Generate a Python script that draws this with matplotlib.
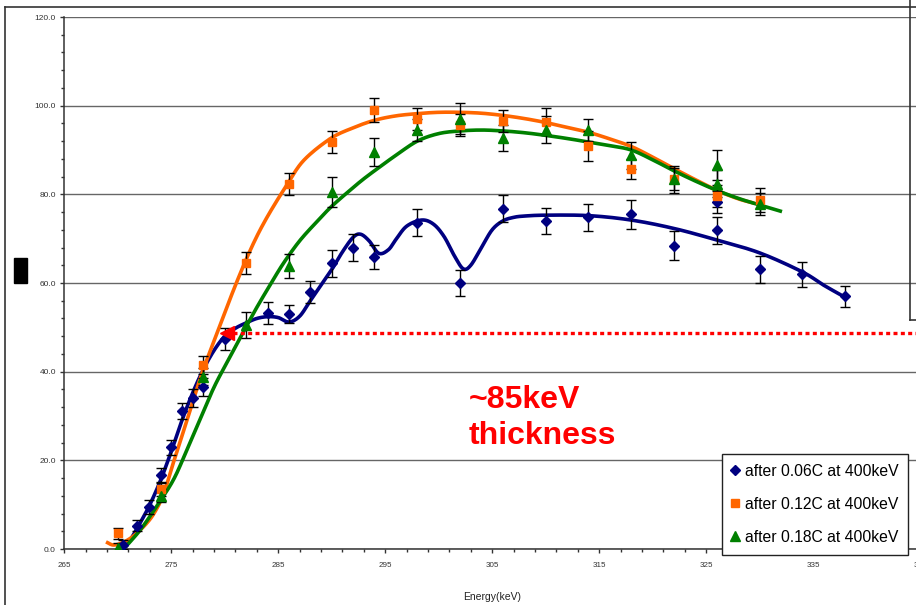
import numpy as np
import matplotlib
matplotlib.use("Agg")
import matplotlib.pyplot as plt
from matplotlib.lines import Line2D
from matplotlib.patches import Rectangle
from matplotlib.ticker import FixedLocator, FormatStrFormatter, MultipleLocator

plt.rcParams['font.family'] = ['Liberation Sans', 'DejaVu Sans']

# ---------------------------------------------------------------------
# measured points (energy keV, yield, error)
# ---------------------------------------------------------------------
blue_e = [270.5, 271.8, 272.9, 274.0, 275.0, 276.0, 277.0, 278.0, 280.0, 284.0, 286.0,
          288.0, 290.0, 292.0, 294.0, 298.0, 302.0, 306.0, 310.0, 314.0, 318.0, 322.0,
          326.0, 326.0, 330.0, 334.0, 338.0]
blue_v = [1.0, 5.3, 9.5, 16.7, 22.9, 31.1, 34.0, 36.6, 47.3, 53.3, 53.0,
          58.0, 64.4, 68.0, 65.9, 73.6, 60.0, 76.8, 74.0, 74.8, 75.5, 68.4,
          78.3, 71.9, 63.1, 62.0, 57.0]
blue_err = [1.0, 1.2, 1.5, 1.5, 1.7, 1.8, 2.0, 2.0, 2.5, 2.5, 2.0,
            2.5, 3.0, 3.0, 2.7, 3.0, 3.0, 3.0, 3.0, 3.0, 3.3, 3.3,
            2.5, 3.0, 3.0, 2.8, 2.4]

orange_e = [270, 274, 278, 282, 286, 290, 294, 298, 302, 306, 310, 314, 318, 322, 326, 330]
orange_v = [3.5, 13.5, 41.5, 64.5, 82.3, 91.8, 99.0, 97.0, 95.6, 96.6, 96.4, 90.9, 85.7, 83.4, 79.6, 78.7]
orange_err = [1.2, 1.5, 2.0, 2.5, 2.5, 2.5, 2.7, 2.5, 2.5, 2.5, 3.0, 3.3, 2.3, 2.5, 2.5, 2.7]

green_e = [270, 274, 278, 282, 286, 290, 294, 298, 302, 306, 310, 314, 318, 322, 326, 326, 330]
green_v = [0.3, 12.0, 38.9, 50.5, 63.8, 80.6, 89.6, 94.6, 97.1, 92.7, 94.6, 94.5, 88.8, 83.4, 86.6, 82.4, 77.9]
green_err = [1.0, 1.5, 2.0, 3.0, 2.7, 3.4, 3.1, 2.5, 3.5, 3.0, 3.0, 2.5, 3.0, 3.0, 3.3, 3.0, 2.5]

# ---------------------------------------------------------------------
# trend curves
# ---------------------------------------------------------------------
blue_fit_e = [270.3, 271, 272, 273, 274, 275, 276, 277, 278, 279, 280, 281, 282, 283, 284,
              285, 286, 287, 288, 289, 290, 291, 292, 292.7, 293.5, 294.4, 295.3, 296,
              297, 298.4, 299.5, 300.5, 301.5, 302.3, 303, 304, 305, 306, 307, 308, 310,
              314, 318, 322, 326, 330, 334, 336, 338.2]
blue_fit_v = [0.3, 1.5, 5.5, 10, 15.5, 22, 29, 35.2, 40.5, 44.8, 48, 49.8, 51, 52, 52.4,
              52.2, 51.2, 52.5, 56, 59.5, 63, 67, 70.3, 71, 69.5, 66.7, 67.5, 69.8,
              72.8, 74.2, 73.3, 70.5, 66, 63.2, 64, 68, 72, 74, 74.8, 75.1, 75.3,
              75.2, 74.2, 72.3, 69.7, 66.8, 62.5, 59.5, 56.5]

orange_fit_e = [268.9, 269.6, 270.5, 271.5, 272.7, 273.5, 274.3, 275.2, 276.4, 277.85,
                279.25, 281, 282.5, 283.9, 285.8, 287.4, 289.9, 292, 294, 296, 298, 300,
                302, 304, 306, 308, 310, 312, 314, 316, 318, 320, 322, 324, 326, 328, 329.5]
orange_fit_v = [1.6, 0.9, 1.5, 3.0, 5.8, 8.5, 12.5, 19.5, 28.5, 39.5,
                48.5, 59.5, 68.0, 74.6, 82.1, 87.7, 92.6, 95.0, 96.7, 97.7, 98.2, 98.5,
                98.5, 98.3, 97.8, 97.1, 96.2, 95.1, 94.0, 92.5, 90.8, 88.4, 85.8, 83.3, 80.9, 79.0, 78.0]

green_fit_e = [270.7, 272.1, 273.6, 275.2, 276.45, 277.7, 279, 280.3, 281.7, 283, 284.3,
               285.5, 287, 288.6, 290, 291.7, 293, 294.5, 296, 298, 300, 302, 304, 306,
               308, 310, 312, 314, 316, 318, 320, 322, 324, 326, 328, 330, 332.1]
green_fit_v = [0.4, 4.3, 9.5, 15.6, 22.3, 29.3, 36.5, 42.5, 48.8, 54.5, 59.8,
               64.5, 69.5, 73.8, 77.3, 80.9, 83.5, 86.2, 88.8, 92.0, 93.7, 94.3, 94.5, 94.3,
               93.9, 93.3, 92.6, 91.8, 91.0, 90.0, 87.8, 85.3, 83.0, 80.9, 79.1, 77.6, 76.1]

# thickness marker
mark_e = [280.2]
mark_v = [48.8]

x_ticks = [265, 275, 285, 295, 305, 315, 325, 335, 345]
labels = ['after 0.06C at 400keV', 'after 0.12C at 400keV', 'after 0.18C at 400keV']
NAVY, ORANGE, GREEN = '#000080', '#FF6600', '#008000'

W, H = 916, 605


def smooth(xs, ys, n=16):
    # Catmull-Rom through the read points (like Excel's smoothed line)
    p = np.column_stack([xs, ys]).astype(float)
    p = np.vstack([2 * p[0] - p[1], p, 2 * p[-1] - p[-2]])
    t = np.linspace(0, 1, n, endpoint=False)[:, None]
    out = []
    for i in range(1, len(p) - 2):
        p0, p1, p2, p3 = p[i - 1], p[i], p[i + 1], p[i + 2]
        seg = 0.5 * (2 * p1 + (-p0 + p2) * t + (2 * p0 - 5 * p1 + 4 * p2 - p3) * t ** 2
                     + (-p0 + 3 * p1 - 3 * p2 + p3) * t ** 3)
        out.append(seg)
    out.append(p[-2][None, :])
    out = np.vstack(out)
    return out[:, 0], out[:, 1]


fig = plt.figure(figsize=(W / 100, H / 100), dpi=100)
ax = fig.add_axes([64.3 / W, 1 - 549 / H, 855.7 / W, 532 / H])

ax.set_xlim(265, 345)
ax.set_ylim(0, 120)
ax.set_axisbelow(True)
ax.yaxis.grid(True, color='#666666', linewidth=1.0)
ax.xaxis.set_major_locator(FixedLocator(x_ticks))
ax.xaxis.set_minor_locator(FixedLocator(np.arange(x_ticks[0], x_ticks[-1] + 1, 2)))
ax.yaxis.set_major_locator(MultipleLocator(20))
ax.yaxis.set_minor_locator(MultipleLocator(4))
ax.yaxis.set_major_formatter(FormatStrFormatter('%.1f'))
ax.tick_params(axis='y', which='major', length=3.2, width=1.0, labelsize=6, pad=2.8,
               colors='#333333')
ax.tick_params(axis='y', which='minor', length=2.0, width=1.0, colors='#333333')
ax.tick_params(axis='x', which='major', length=3.2, width=1.0, labelsize=5.8, pad=6,
               colors='#333333')
ax.tick_params(axis='x', which='minor', length=2.2, width=1.0, colors='#333333')
for s in ['top', 'right']:
    ax.spines[s].set_visible(False)
for s in ['left', 'bottom']:
    ax.spines[s].set_color('#333333')
    ax.spines[s].set_linewidth(1.1)

# trend curves
for fe, fv, col in [(blue_fit_e, blue_fit_v, NAVY), (orange_fit_e, orange_fit_v, ORANGE),
                    (green_fit_e, green_fit_v, GREEN)]:
    sx, sy = smooth(fe, fv)
    ax.plot(sx, sy, color=col, linewidth=2.6, solid_capstyle='butt', zorder=2)

# measured points with error bars
ax.errorbar(blue_e, blue_v, yerr=blue_err, fmt='D', color=NAVY, markersize=5.2,
            ecolor='black', elinewidth=1.0, capsize=3.6, capthick=1.0, zorder=3)
ax.errorbar(orange_e, orange_v, yerr=orange_err, fmt='s', color=ORANGE, markersize=6.2,
            ecolor='black', elinewidth=1.0, capsize=3.6, capthick=1.0, zorder=3)
ax.errorbar(green_e, green_v, yerr=green_err, fmt='^', color=GREEN, markersize=7.5,
            ecolor='black', elinewidth=1.0, capsize=3.6, capthick=1.0, zorder=3)

# thickness level
ax.hlines(mark_v, mark_e[0] + 0.6, 345, colors='#FF0000', linewidth=2.4,
          linestyles=(0, (1.2, 1.0)), zorder=4)
ax.plot(mark_e, mark_v, marker='<', color='#FF0000', markersize=9.5, linestyle='none', zorder=5)
ax.text(302.8, 37.0, '~85keV\nthickness', color='#FF0000', fontsize=23, fontweight='bold',
        ha='left', va='top', linespacing=1.28)

ax.set_xlabel('Energy(keV)', fontsize=7.5, color='#222222')
ax.xaxis.set_label_coords((492 - 64.3) / 855.7, -(592.5 - 549) / 532)

handles = [Line2D([], [], marker='D', color=NAVY, linestyle='none', markersize=5.2),
           Line2D([], [], marker='s', color=ORANGE, linestyle='none', markersize=6.2),
           Line2D([], [], marker='^', color=GREEN, linestyle='none', markersize=7.5)]
leg = ax.legend(handles, labels, loc='upper left', bbox_to_anchor=(721.7 / W, 1 - 454 / H),
                bbox_transform=fig.transFigure, borderaxespad=0, fontsize=11.3,
                handlelength=0.5, handletextpad=0.35, labelspacing=1.15, borderpad=0.62,
                fancybox=False, framealpha=1)
leg.get_frame().set_edgecolor('#222222')
leg.get_frame().set_linewidth(1.0)
leg.set_zorder(6)

# slide frame bits around the chart
line_kw = dict(transform=fig.transFigure, color='#333333', linewidth=1.2)
fig.add_artist(Line2D([4.7 / W, 4.7 / W], [0, 1 - 6.7 / H], **line_kw))
fig.add_artist(Line2D([4.7 / W, 1], [1 - 6.7 / H, 1 - 6.7 / H], **line_kw))
fig.add_artist(Line2D([910 / W, 910 / W], [1, 1 - 320 / H], **line_kw))
fig.add_artist(Line2D([910 / W, 1], [1 - 320 / H, 1 - 320 / H], **line_kw))
fig.add_artist(Rectangle((14 / W, 1 - 283 / H), 13 / W, 25 / H, color='black',
                         transform=fig.transFigure))

fig.savefig('out.png', dpi=100)
